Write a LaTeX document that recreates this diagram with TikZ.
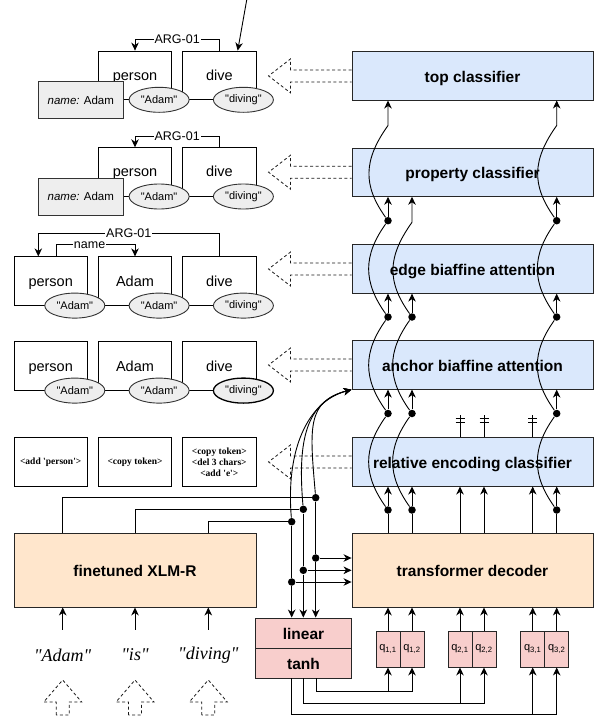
\documentclass[tikz,border=0pt]{standalone}
\usepackage{fontspec}
\setmainfont{Liberation Sans}
\newfontfamily\serifont{Liberation Serif}
\usetikzlibrary{arrows.meta,calc,shapes.geometric}
\definecolor{cblue}{HTML}{DAE8FC}
\definecolor{corange}{HTML}{FFE6CC}
\definecolor{cpink}{HTML}{F8CECC}
\definecolor{cgray}{HTML}{EEEEEE}
\newcommand\qq[1]{\textquotedbl#1\textquotedbl}
\newcommand\hollowleft[1]{\draw[hollow] ($(#1.west)+(0,-6)$) -- ++(-61,0) -- ++(0,-11) -- ($(#1.west)+(-83,0)$) -- ($(#1.west)+(-61,17)$) -- ++(0,-11) -- ($(#1.west)+(0,6)$);}
\newcommand\hollowup[1]{\draw[hollow] ($(#1.center)+(-6.5,60)$) -- ++(0,-13) -- ++(-12.5,0) -- ($(#1.center)+(0,25)$) -- ($(#1.center)+(19,47)$) -- ++(-12.5,0) -- ++(0,13) -- cycle;}
\begin{document}
\begin{tikzpicture}[x=1pt,y=-1pt,line width=0.9pt,
  arr/.style={-{Stealth[length=8pt,width=7.5pt,inset=2.5pt]}},
  boldtxt/.style={text height=12.8pt,text depth=0pt,font=\fontsize{15.5}{18}\selectfont\bfseries},
  clsbox/.style={draw=black!85,fill=cblue,minimum width=241pt,minimum height=48.3pt,inner sep=0pt,boldtxt},
  bigbox/.style={draw=black!85,fill=corange,minimum width=241pt,minimum height=74pt,inner sep=0pt,boldtxt},
  pinkbox/.style={draw=black!85,fill=cpink,minimum width=96.7pt,minimum height=30pt,inner sep=0pt,boldtxt},
  qbox/.style={draw=black!85,fill=cpink,minimum width=24pt,minimum height=36pt,inner sep=0pt,font=\fontsize{11}{13}\selectfont},
  gbox/.style={draw,fill=white,minimum width=73.3pt,minimum height=48.3pt,inner sep=0pt,text height=12pt,text depth=2pt,font=\fontsize{14.5}{17}\selectfont},
  sbox/.style={draw,fill=white,minimum width=73.3pt,minimum height=48.3pt,inner sep=0pt,align=center,font=\serifont\bfseries\fontsize{9.5}{11}\selectfont},
  gell/.style={ellipse,draw=black!80,fill=cgray,minimum width=60pt,minimum height=25pt,inner sep=0pt,font=\fontsize{11}{13}\selectfont},
  namebox/.style={draw=black!80,fill=cgray,minimum width=85pt,minimum height=36.7pt,inner sep=0pt,font=\fontsize{11.5}{13}\selectfont},
  lbl/.style={fill=white,inner sep=1pt,font=\fontsize{12.5}{14}\selectfont},
  word/.style={minimum height=50pt,inner sep=0pt,font=\serifont\itshape\fontsize{18}{20}\selectfont},
  dotn/.style={circle,fill=black,inner sep=0pt,minimum size=7.5pt},
  hollow/.style={draw=black!90,line width=0.8pt,dash pattern=on 3pt off 2.5pt}]
\useasboundingbox (0,0) rectangle (598,718);

% classifier boxes
\node[clsbox] (top) at (472.5,75.9) {top classifier};
\node[clsbox] (prop) at (472.5,172.2) {property classifier};
\node[clsbox] (edge) at (472.5,269) {edge biaffine attention};
\node[clsbox] (anch) at (472.5,365) {anchor biaffine attention};
\node[clsbox] (rel) at (472.5,461.9) {relative encoding classifier};
\node[bigbox] (dec) at (472.5,570) {transformer decoder};
\node[bigbox,minimum width=242pt] (xlmr) at (135,570) {finetuned XLM-R};
\node[pinkbox] (lin) at (303.5,633) {linear};
\node[pinkbox] (tanh) at (303.5,663) {tanh};

% query boxes
\node[qbox] (q11) at (388,649) {q\textsubscript{1,1}};
\node[qbox] (q12) at (412,649) {q\textsubscript{1,2}};
\node[qbox] (q21) at (460,649) {q\textsubscript{2,1}};
\node[qbox] (q22) at (484,649) {q\textsubscript{2,2}};
\node[qbox] (q31) at (532.7,649) {q\textsubscript{3,1}};
\node[qbox] (q32) at (556.7,649) {q\textsubscript{3,2}};

% hollow dashed arrows
\hollowleft{top}
\hollowleft{prop}
\hollowleft{edge}
\hollowleft{anch}
\hollowleft{rel}

% words
\node[word] (w1) at (62.7,655) {\qq{Adam}};
\node[word] (w2) at (135,655) {\qq{is}};
\node[word] (w3) at (208.3,655) {\qq{diving}};
\hollowup{w1}
\hollowup{w2}
\hollowup{w3}
\foreach \w in {w1,w2,w3} {\draw[arr] (\w.north) -- (xlmr.south -| \w);}

% row 1
\node[gbox] (p1) at (135,75.2) {person};
\node[gbox] (d1) at (219.3,75.2) {dive};
\node[namebox] (n1) at (80.8,100) {\textit{name:} Adam};
\node[gell] (e1a) at ($(p1.south east)+(-13,0)$) {\qq{Adam}};
\node[gell] (e1b) at ($(d1.south east)+(-13,0)$) {\qq{diving}};
\draw[arr] (d1.north) -- ++(0,-11) -| node[lbl,pos=0.25]{ARG-01} (p1.north);
\coordinate (topin) at (246.7,0);
\draw[arr] (topin) -- ([xshift=18.4pt]d1.north);

% row 2
\node[gbox] (p2) at (135,171.9) {person};
\node[gbox] (d2) at (219.3,171.9) {dive};
\node[namebox] (n2) at (80.8,196.7) {\textit{name:} Adam};
\node[gell] (e2a) at ($(p2.south east)+(-13,0)$) {\qq{Adam}};
\node[gell] (e2b) at ($(d2.south east)+(-13,0)$) {\qq{diving}};
\draw[arr] (d2.north) -- ++(0,-11) -| node[lbl,pos=0.25]{ARG-01} (p2.north);

% row 3
\node[gbox] (p3) at (50.7,281) {person};
\node[gbox] (a3) at (135,281) {Adam};
\node[gbox] (d3) at (219.3,281) {dive};
\node[gell] (e3a) at ($(p3.south east)+(-13,0)$) {\qq{Adam}};
\node[gell] (e3b) at ($(a3.south east)+(-13,0)$) {\qq{Adam}};
\node[gell] (e3c) at ($(d3.south east)+(-13,0)$) {\qq{diving}};
\draw[arr] (d3.north) -- ++(0,-23.4) -| node[lbl,pos=0.25]{ARG-01} ([xshift=-12.4pt]p3.north);
\draw[arr] ([xshift=6pt]p3.north) -- ++(0,-11.7) -| node[lbl,pos=0.21]{name} (a3.north);

% row 4
\node[gbox] (p4) at (50.7,366) {person};
\node[gbox] (a4) at (135,366) {Adam};
\node[gbox] (d4) at (219.3,366) {dive};
\node[gell] (e4a) at ($(p4.south east)+(-13,0)$) {\qq{Adam}};
\node[gell] (e4b) at ($(a4.south east)+(-13,0)$) {\qq{Adam}};
\node[gell,draw=black,line width=1.3pt] (e4c) at ($(d4.south east)+(-13,0)$) {\qq{diving}};

% row 5
\node[sbox] (s1) at (50.7,462) {<add \textquotesingle person\textquotesingle>};
\node[sbox] (s2) at (135,462) {<copy token>};
\node[sbox] (s3) at (219.3,462) {<copy token>\\<del 3 chars>\\<add \textquotesingle e\textquotesingle>};

% XLM-R outputs
\node[dotn] (j1) at (315.7,497.7) {};
\node[dotn] (j2) at (303.3,509.3) {};
\node[dotn] (j3) at (291.7,521.7) {};
\node[dotn] (k1) at (315.7,558) {};
\node[dotn] (k2) at (303.3,570.3) {};
\node[dotn] (k3) at (291.7,582) {};
\draw (xlmr.north -| w1) |- (j1);
\draw (xlmr.north -| w2) |- (j2);
\draw (xlmr.north -| w3) |- (j3);
\foreach \i in {1,2,3} {
  \draw (j\i) -- (k\i);
  \draw[arr] (k\i) -- (lin.north -| k\i);
  \draw[arr] (k\i) -- (dec.west |- k\i);
  \draw[arr] (j\i) .. controls +(-6,-70) and +(-45,12) .. (anch.south west);
}

% tanh to queries
\draw[arr] ([xshift=12.5pt]tanh.south) |- ($(q12.south)+(0,24)$) -- (q12.south);
\draw[arr] ($(q11.south)+(0,24)$) -- (q11.south);
\draw[arr] (tanh.south) |- ($(q22.south)+(0,35.5)$) -- (q22.south);
\draw[arr] ($(q21.south)+(0,35.5)$) -- (q21.south);
\draw[arr] ([xshift=-11.8pt]tanh.south) |- ($(q32.south)+(0,47.3)$) -- (q32.south);
\draw[arr] ($(q31.south)+(0,47.3)$) -- (q31.south);
\foreach \q in {q11,q12,q21,q22,q31,q32} {\draw[arr] (\q.north) -- (dec.south -| \q);}

% decoder to classifiers
\foreach \q in {q21,q22,q31} {
  \draw[arr] (dec.north -| \q) -- (rel.south -| \q);
  \draw (rel.north -| \q) -- ++(0,-22.7);
  \draw ($(rel.north -| \q)+(-4.5,-18.4)$) -- ++(9,0);
  \draw ($(rel.north -| \q)+(-4.5,-14.4)$) -- ++(9,0);
}
\foreach \c/\x in {A/388,B/412,C/556.7} {
  \node[dotn] (\c1) at (\x,510) {};
  \node[dotn] (\c2) at (\x,413.5) {};
  \node[dotn] (\c3) at (\x,317) {};
}
\node[dotn] (A4) at (388,220.7) {};
\node[dotn] (C4) at (556.7,220.7) {};
\foreach \c in {A,B,C} {
  \draw (dec.north -| \c1) -- (\c1);
  \draw[arr] (\c1) -- (rel.south -| \c1);
  \draw[arr] (\c2) -- (anch.south -| \c2);
  \draw[arr] (\c3) -- (edge.south -| \c3);
  \draw (\c1) .. controls +(-25,-35) and +(-25,35) .. (\c2);
  \draw (\c2) .. controls +(-25,-35) and +(-25,35) .. (\c3);
}
\foreach \c in {A,C} {
  \draw (\c3) .. controls +(-25,-35) and +(-25,35) .. (\c4);
  \draw[arr] (\c4) -- (prop.south -| \c4);
  \draw[arr] (\c4) .. controls +(-25,-35) and +(-25,35) .. ($(top.south -| \c4)+(0,25)$) -- (top.south -| \c4);
}
\draw[arr] (B3) .. controls +(-25,-35) and +(-25,35) .. ($(prop.south -| B3)+(0,25.5)$) -- (prop.south -| B3);
\end{tikzpicture}
\end{document}
